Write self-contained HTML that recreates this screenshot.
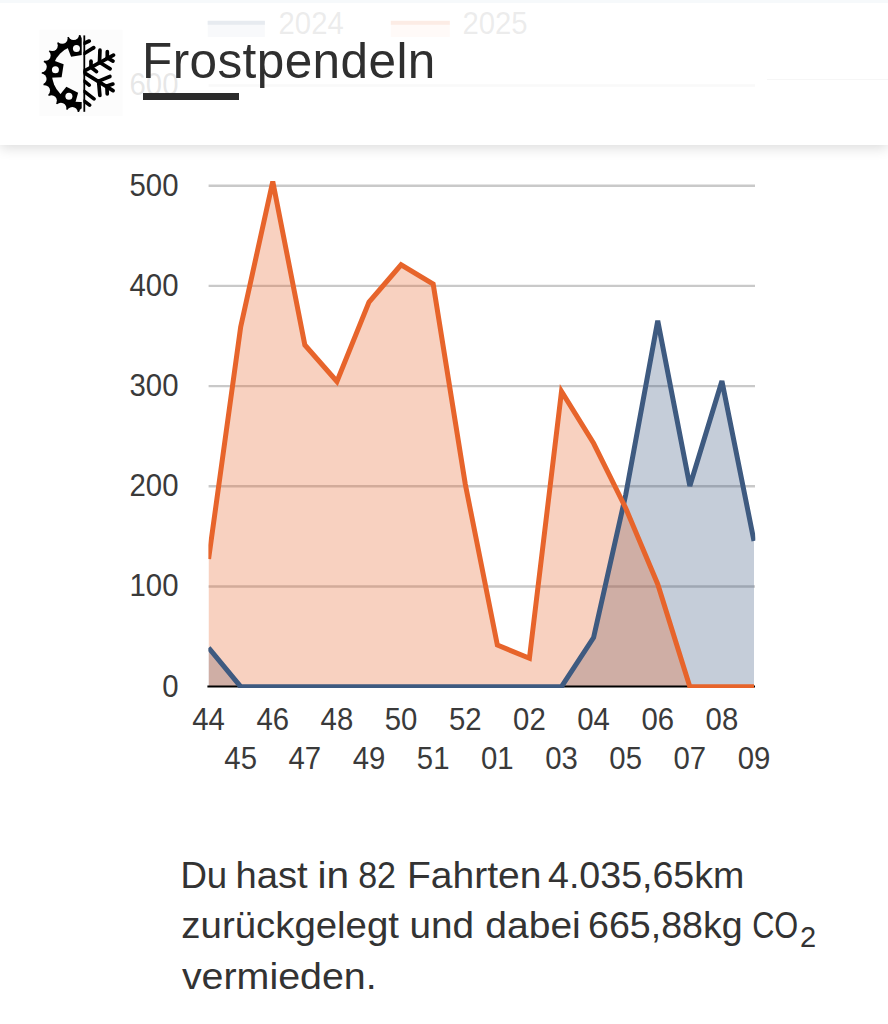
<!DOCTYPE html>
<html lang="de"><head><meta charset="utf-8"><title>Frostpendeln</title><style>
html,body{margin:0;padding:0;}
body{width:888px;height:1024px;overflow:hidden;background:#fff;position:relative;font-family:"Liberation Sans",sans-serif;}
#chart{position:absolute;left:0;top:0;}
#hdr{position:absolute;left:0;top:0;width:888px;height:144.5px;background:rgba(255,255,255,0.88);box-shadow:0 3px 12px rgba(0,0,0,0.14);}
#topband{position:absolute;left:0;top:0;width:888px;height:2.5px;background:#f6f9fb;}
#faint{position:absolute;left:767px;top:78.8px;width:121px;height:1.5px;background:#f6f6f6;}
#logo{position:absolute;left:0;top:0;}
#title{position:absolute;left:142px;top:36px;font-size:49.5px;letter-spacing:0.4px;color:#2f2f2f;line-height:1;white-space:nowrap;}
#bar{position:absolute;left:142.5px;top:93.2px;width:96.3px;height:6.8px;background:#2b2b2b;}
#txt{position:absolute;left:0;top:0;}
</style></head><body>
<svg id="chart" width="888" height="1024" viewBox="0 0 888 1024">
<defs><clipPath id="ca"><rect x="208.4" y="0" width="546.9" height="688"/></clipPath></defs>
<g stroke="#c9c9c9" stroke-width="2.4">
<line x1="208.6" x2="755" y1="586.50" y2="586.50"/>
<line x1="208.6" x2="755" y1="486.30" y2="486.30"/>
<line x1="208.6" x2="755" y1="386.10" y2="386.10"/>
<line x1="208.6" x2="755" y1="285.90" y2="285.90"/>
<line x1="208.6" x2="755" y1="185.70" y2="185.70"/>
<line x1="208.6" x2="755" y1="85.50" y2="85.50"/>
</g>
<g font-family="Liberation Sans, sans-serif" font-size="31" fill="#3a3a3a" text-anchor="end">
<text x="178.5" y="696.50" textLength="16.32" lengthAdjust="spacingAndGlyphs">0</text>
<text x="178.5" y="596.30" textLength="48.97" lengthAdjust="spacingAndGlyphs">100</text>
<text x="178.5" y="496.10" textLength="48.97" lengthAdjust="spacingAndGlyphs">200</text>
<text x="178.5" y="395.90" textLength="48.97" lengthAdjust="spacingAndGlyphs">300</text>
<text x="178.5" y="295.70" textLength="48.97" lengthAdjust="spacingAndGlyphs">400</text>
<text x="178.5" y="195.50" textLength="48.97" lengthAdjust="spacingAndGlyphs">500</text>
<text x="178.5" y="95.30" textLength="48.97" lengthAdjust="spacingAndGlyphs">600</text>
</g>
<g font-family="Liberation Sans, sans-serif" font-size="31" fill="#3a3a3a" text-anchor="middle">
<text x="208.60" y="729.5" textLength="32.64" lengthAdjust="spacingAndGlyphs">44</text>
<text x="240.68" y="768.6" textLength="32.64" lengthAdjust="spacingAndGlyphs">45</text>
<text x="272.76" y="729.5" textLength="32.64" lengthAdjust="spacingAndGlyphs">46</text>
<text x="304.85" y="768.6" textLength="32.64" lengthAdjust="spacingAndGlyphs">47</text>
<text x="336.93" y="729.5" textLength="32.64" lengthAdjust="spacingAndGlyphs">48</text>
<text x="369.01" y="768.6" textLength="32.64" lengthAdjust="spacingAndGlyphs">49</text>
<text x="401.09" y="729.5" textLength="32.64" lengthAdjust="spacingAndGlyphs">50</text>
<text x="433.18" y="768.6" textLength="32.64" lengthAdjust="spacingAndGlyphs">51</text>
<text x="465.26" y="729.5" textLength="32.64" lengthAdjust="spacingAndGlyphs">52</text>
<text x="497.34" y="768.6" textLength="32.64" lengthAdjust="spacingAndGlyphs">01</text>
<text x="529.42" y="729.5" textLength="32.64" lengthAdjust="spacingAndGlyphs">02</text>
<text x="561.51" y="768.6" textLength="32.64" lengthAdjust="spacingAndGlyphs">03</text>
<text x="593.59" y="729.5" textLength="32.64" lengthAdjust="spacingAndGlyphs">04</text>
<text x="625.67" y="768.6" textLength="32.64" lengthAdjust="spacingAndGlyphs">05</text>
<text x="657.75" y="729.5" textLength="32.64" lengthAdjust="spacingAndGlyphs">06</text>
<text x="689.84" y="768.6" textLength="32.64" lengthAdjust="spacingAndGlyphs">07</text>
<text x="721.92" y="729.5" textLength="32.64" lengthAdjust="spacingAndGlyphs">08</text>
<text x="754.00" y="768.6" textLength="32.64" lengthAdjust="spacingAndGlyphs">09</text>
</g>
<g clip-path="url(#ca)">
<path d="M208.60,686.7 L208.60,647.80 L240.68,686.70 L272.76,686.70 L304.85,686.70 L336.93,686.70 L369.01,686.70 L401.09,686.70 L433.18,686.70 L465.26,686.70 L497.34,686.70 L529.42,686.70 L561.51,686.70 L593.59,637.60 L625.67,495.00 L657.75,320.80 L689.84,486.00 L721.92,381.00 L754.00,541.00 L754.00,686.7 Z" fill="rgba(62,89,128,0.3)"/>
<path d="M208.60,686.7 L208.60,559.00 L240.68,327.00 L272.76,181.50 L304.85,345.00 L336.93,381.50 L369.01,302.00 L401.09,264.80 L433.18,284.00 L465.26,484.00 L497.34,645.00 L529.42,658.30 L561.51,391.50 L593.59,443.30 L625.67,508.00 L657.75,584.20 L689.84,686.70 L721.92,686.70 L754.00,686.70 L754.00,686.7 Z" fill="rgba(232,103,47,0.3)"/>
</g>
<line x1="207.4" x2="755" y1="686.6" y2="686.6" stroke="#000" stroke-width="2.0"/>
<g clip-path="url(#ca)" fill="none" stroke-width="5" stroke-linejoin="miter" stroke-miterlimit="4">
<polyline points="208.60,647.80 240.68,686.70 272.76,686.70 304.85,686.70 336.93,686.70 369.01,686.70 401.09,686.70 433.18,686.70 465.26,686.70 497.34,686.70 529.42,686.70 561.51,686.70 593.59,637.60 625.67,495.00 657.75,320.80 689.84,486.00 721.92,381.00 754.00,541.00" stroke="#3e5a80"/>
<polyline points="208.60,559.00 240.68,327.00 272.76,181.50 304.85,345.00 336.93,381.50 369.01,302.00 401.09,264.80 433.18,284.00 465.26,484.00 497.34,645.00 529.42,658.30 561.51,391.50 593.59,443.30 625.67,508.00 657.75,584.20 689.84,686.70 721.92,686.70 754.00,686.70" stroke="#e7642b"/>
</g>
<rect x="207.7" y="20.8" width="57.2" height="16.2" fill="rgba(62,89,128,0.3)"/>
<rect x="207.7" y="20.8" width="57.2" height="4" fill="#3e5a80"/>
<rect x="390.8" y="20.8" width="59" height="16.2" fill="rgba(232,103,47,0.3)"/>
<rect x="390.8" y="20.8" width="59" height="4" fill="#e7642b"/>
<g font-family="Liberation Sans, sans-serif" font-size="31" fill="#666">
<text x="278.5" y="33.8" textLength="65.29" lengthAdjust="spacingAndGlyphs">2024</text>
<text x="462.4" y="33.8" textLength="65.29" lengthAdjust="spacingAndGlyphs">2025</text>
</g>
</svg>
<div id="hdr"></div>
<div id="topband"></div>
<div id="faint"></div>
<svg id="logo" width="140" height="140" viewBox="0 0 140 140">
<defs>
<clipPath id="sprclip"><rect x="0" y="0" width="81.7" height="140"/></clipPath>
<clipPath id="snclip"><rect x="83.4" y="0" width="60" height="140"/></clipPath>
<mask id="sprmask" maskUnits="userSpaceOnUse" x="0" y="0" width="140" height="140">
<rect x="0" y="0" width="140" height="140" fill="#000"/>
<circle cx="80.4" cy="73.6" r="38.7" fill="#fff"/>
<g fill="#000"><circle cx="116.74" cy="89.33" r="5.4"/><circle cx="119.80" cy="77.60" r="5.4"/><circle cx="119.16" cy="65.50" r="5.4"/><circle cx="114.90" cy="54.16" r="5.4"/><circle cx="107.41" cy="44.64" r="5.4"/><circle cx="97.39" cy="37.83" r="5.4"/><circle cx="85.77" cy="34.37" r="5.4"/><circle cx="73.66" cy="34.58" r="5.4"/><circle cx="62.18" cy="38.44" r="5.4"/><circle cx="52.40" cy="45.60" r="5.4"/><circle cx="45.24" cy="55.38" r="5.4"/><circle cx="41.38" cy="66.86" r="5.4"/><circle cx="41.17" cy="78.97" r="5.4"/><circle cx="44.63" cy="90.59" r="5.4"/><circle cx="51.44" cy="100.61" r="5.4"/><circle cx="60.96" cy="108.10" r="5.4"/><circle cx="72.30" cy="112.36" r="5.4"/><circle cx="84.40" cy="113.00" r="5.4"/><circle cx="96.13" cy="109.94" r="5.4"/><circle cx="106.38" cy="103.49" r="5.4"/><circle cx="114.20" cy="94.23" r="5.4"/><circle cx="118.86" cy="83.05" r="5.4"/><circle cx="119.91" cy="70.98" r="5.4"/><circle cx="117.27" cy="59.15" r="5.4"/><circle cx="111.17" cy="48.68" r="5.4"/></g>
<circle cx="80.4" cy="73.6" r="28.5" fill="#000"/>
<g fill="#fff"><polygon points="66.82,45.38 71.07,56.85 84.10,54.79 84.60,42.56"/><polygon points="49.36,77.80 61.59,77.30 63.65,64.27 52.18,60.02"/><polygon points="74.80,104.42 78.11,92.63 66.35,86.64 58.76,96.24"/></g>
<g fill="#000"><circle cx="76.44" cy="48.61" r="3.5"/><circle cx="55.41" cy="69.64" r="3.5"/><circle cx="68.91" cy="96.14" r="3.5"/></g>
</mask>
</defs>
<rect x="39.5" y="29.6" width="83" height="86.4" fill="#fcfcfc"/>
<g clip-path="url(#sprclip)"><rect x="0" y="0" width="140" height="140" fill="#000" mask="url(#sprmask)"/></g>
<rect x="83.4" y="35.4" width="1.8" height="76.4" fill="#000"/>
<g clip-path="url(#snclip)" stroke="#000" stroke-width="3.7" stroke-linecap="round"><line x1="84.00" y1="71.20" x2="113.47" y2="55.17"/><line x1="91.00" y1="67.20" x2="91.00" y2="61.20"/><line x1="91.00" y1="67.20" x2="96.51" y2="71.62"/><line x1="99.50" y1="62.30" x2="99.95" y2="50.20"/><line x1="99.50" y1="62.30" x2="110.11" y2="68.86"/><line x1="107.30" y1="57.90" x2="107.30" y2="51.70"/><line x1="107.30" y1="57.90" x2="112.98" y2="61.11"/><line x1="84.00" y1="72.60" x2="113.01" y2="90.66"/><line x1="98.60" y1="81.10" x2="99.87" y2="95.31"/><line x1="98.60" y1="81.10" x2="109.90" y2="76.53"/><line x1="106.90" y1="86.00" x2="107.24" y2="93.90"/><line x1="106.90" y1="86.00" x2="112.87" y2="84.04"/><line x1="84.30" y1="43.20" x2="89.22" y2="41.06"/><line x1="84.30" y1="53.50" x2="93.71" y2="47.64"/><line x1="84.30" y1="81.10" x2="89.22" y2="85.11"/><line x1="84.30" y1="91.40" x2="93.99" y2="98.85"/><line x1="84.30" y1="101.10" x2="89.59" y2="105.15"/></g>
</svg>
<div id="title">Frostpendeln</div>
<div id="bar"></div>
<svg id="txt" width="888" height="1024" viewBox="0 0 888 1024" font-family="Liberation Sans, sans-serif" font-size="37" fill="#333">
<text x="180.43" y="887.9" textLength="46.83" lengthAdjust="spacingAndGlyphs">Du</text>
<text x="235.43" y="887.9" textLength="72.22" lengthAdjust="spacingAndGlyphs">hast</text>
<text x="317.40" y="887.9" textLength="31.63" lengthAdjust="spacingAndGlyphs">in</text>
<text x="358.18" y="887.9" textLength="37.87" lengthAdjust="spacingAndGlyphs">82</text>
<text x="406.93" y="887.9" textLength="134.53" lengthAdjust="spacingAndGlyphs">Fahrten</text>
<text x="548.00" y="887.9" textLength="196.35" lengthAdjust="spacingAndGlyphs">4.035,65km</text>
<text x="181.36" y="938.4" textLength="217.59" lengthAdjust="spacingAndGlyphs">zurückgelegt</text>
<text x="409.41" y="938.4" textLength="64.54" lengthAdjust="spacingAndGlyphs">und</text>
<text x="485.35" y="938.4" textLength="95.39" lengthAdjust="spacingAndGlyphs">dabei</text>
<text x="588.09" y="938.4" textLength="154.52" lengthAdjust="spacingAndGlyphs">665,88kg</text>
<text x="752.17" y="938.4" textLength="46.08" lengthAdjust="spacingAndGlyphs">CO</text>
<text x="181.90" y="989.4" textLength="194.79" lengthAdjust="spacingAndGlyphs">vermieden.</text>
<text x="800.0" y="946.6" font-size="29">2</text>
</svg>
</body></html>
